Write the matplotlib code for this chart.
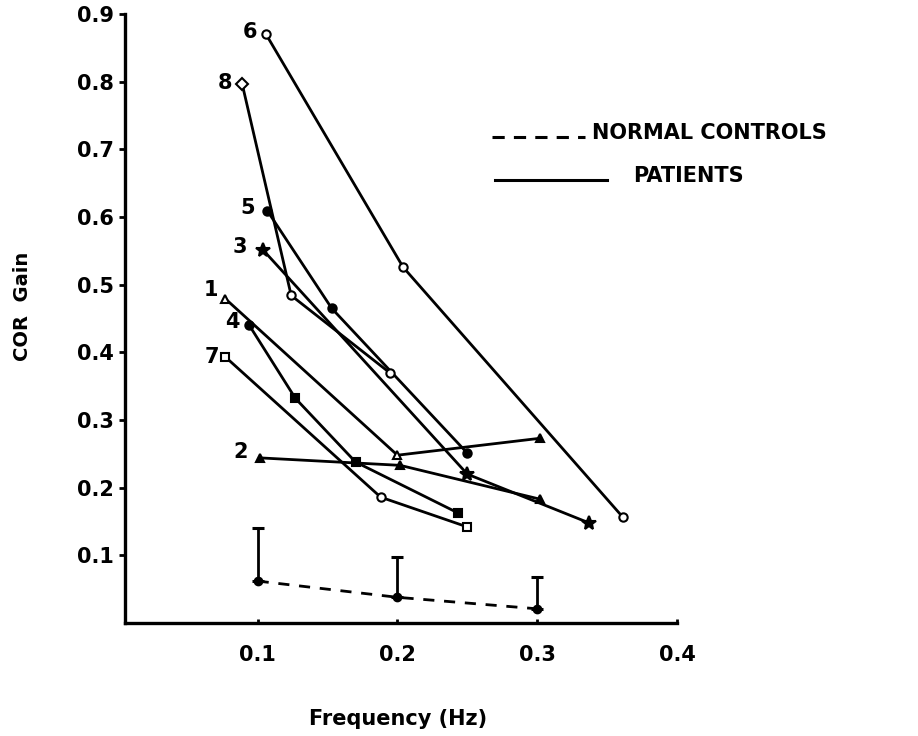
import numpy as np
import matplotlib
matplotlib.use('Agg')
import matplotlib.pyplot as plt

###########################################################
# data: COR gain vs stimulus frequency

# patients (id -> frequency, gain, marker per point, filled per point)
p1_freq = [0.077, 0.200, 0.302]
p1_gain = [0.479, 0.248, 0.273]
p2_freq = [0.102, 0.202, 0.302]
p2_gain = [0.244, 0.233, 0.183]
p3_freq = [0.104, 0.250, 0.337]
p3_gain = [0.551, 0.220, 0.148]
p4_freq = [0.094, 0.127, 0.170, 0.243]
p4_gain = [0.440, 0.332, 0.238, 0.163]
p5_freq = [0.107, 0.153, 0.250]
p5_gain = [0.609, 0.465, 0.251]
p6_freq = [0.106, 0.204, 0.361]
p6_gain = [0.870, 0.526, 0.157]
p7_freq = [0.077, 0.188, 0.250]
p7_gain = [0.393, 0.186, 0.142]
p8_freq = [0.089, 0.124, 0.195]
p8_gain = [0.796, 0.484, 0.369]

patients = {
    1: (p1_freq, p1_gain, ['^', '^', '^'], [False, False, True]),
    2: (p2_freq, p2_gain, ['^', '^', '^'], [True, True, True]),
    3: (p3_freq, p3_gain, ['*', '*', '*'], [True, True, True]),
    4: (p4_freq, p4_gain, ['o', 's', 's', 's'], [True, True, True, True]),
    5: (p5_freq, p5_gain, ['o', 'o', 'o'], [True, True, True]),
    6: (p6_freq, p6_gain, ['o', 'o', 'o'], [False, False, False]),
    7: (p7_freq, p7_gain, ['s', 'o', 's'], [False, False, False]),
    8: (p8_freq, p8_gain, ['D', 'o', 'o'], [False, False, False]),
}

# label offsets (pixels) for the patient numbers
label_offset = {6: (-16, 2), 8: (-17, 1), 5: (-20, 3), 3: (-23, 3),
                1: (-15, 9), 4: (-17, 3), 7: (-14, 0), 2: (-20, 6)}

# normal controls: mean and upper error
ctrl_freq = [0.1, 0.2, 0.3]
ctrl_gain = [0.062, 0.038, 0.021]
ctrl_upper = [0.141, 0.097, 0.068]

xticks = [0.1, 0.2, 0.3, 0.4]
yticks = [0.1, 0.2, 0.3, 0.4, 0.5, 0.6, 0.7, 0.8, 0.9]

###########################################################
# plot

plt.rcParams['font.family'] = ['DejaVu Sans']
plt.rcParams['font.weight'] = 'bold'

fig = plt.figure(figsize=(9.18, 7.36), dpi=100)
ax = fig.add_axes([0.136, 0.1535, 0.6015, 0.8275])

for pid, (f, g, mks, filled) in patients.items():
    ax.plot(f, g, '-', color='k', lw=2.0, zorder=2)
    for fi, gi, m, fl in zip(f, g, mks, filled):
        ms = 10 if m == '*' else 6
        ax.plot(fi, gi, marker=m, ms=ms, mew=1.5, mec='k',
                mfc='k' if fl else 'white', zorder=3)
    dx, dy = label_offset[pid]
    ax.annotate(str(pid), (f[0], g[0]), xytext=(dx, dy), textcoords='offset pixels',
                ha='center', va='center', fontsize=15, fontweight='bold')

# normal controls with upward error bars
yerr = [np.zeros(len(ctrl_gain)), np.array(ctrl_upper) - np.array(ctrl_gain)]
ax.plot(ctrl_freq, ctrl_gain, color='k', lw=2.0, ls=(0, (4, 3.5)), zorder=2)
ax.errorbar(ctrl_freq, ctrl_gain, yerr=yerr, fmt='o', color='k', ms=6,
            elinewidth=2.0, capsize=4.5, capthick=2.2, zorder=3)

# legend drawn by hand
ax.plot([0.665, 0.833], [0.798, 0.798], color='k', lw=2.2, ls=(0, (4, 3)),
        transform=ax.transAxes, clip_on=False)
ax.text(0.846, 0.805, 'NORMAL CONTROLS', transform=ax.transAxes, fontsize=15,
        fontweight='bold', va='center', ha='left')
ax.plot([0.670, 0.873], [0.727, 0.727], color='k', lw=2.2,
        transform=ax.transAxes, clip_on=False)
ax.text(0.920, 0.734, 'PATIENTS', transform=ax.transAxes, fontsize=15,
        fontweight='bold', va='center', ha='left')

# axes
ax.set_xlim(0.005, 0.4)
ax.set_ylim(0, 0.9)
ax.set_xticks(xticks)
ax.set_xticklabels(['%.1f' % t for t in xticks])
ax.set_yticks(yticks)
ax.set_yticklabels(['%.1f' % t for t in yticks])
for s in ['top', 'right']:
    ax.spines[s].set_visible(False)
for s in ['left', 'bottom']:
    ax.spines[s].set_linewidth(2.4)
ax.tick_params(axis='y', direction='out', length=4, width=2, pad=4, labelsize=15)
ax.tick_params(axis='x', direction='in', length=3, width=2, pad=16, labelsize=15)

fig.text(0.024, 0.584, 'COR  Gain', rotation=90, fontsize=14, fontweight='bold',
         ha='center', va='center')
fig.text(0.434, 0.023, 'Frequency (Hz)', fontsize=15, fontweight='bold',
         ha='center', va='center')

plt.savefig('out.png', dpi=100)
